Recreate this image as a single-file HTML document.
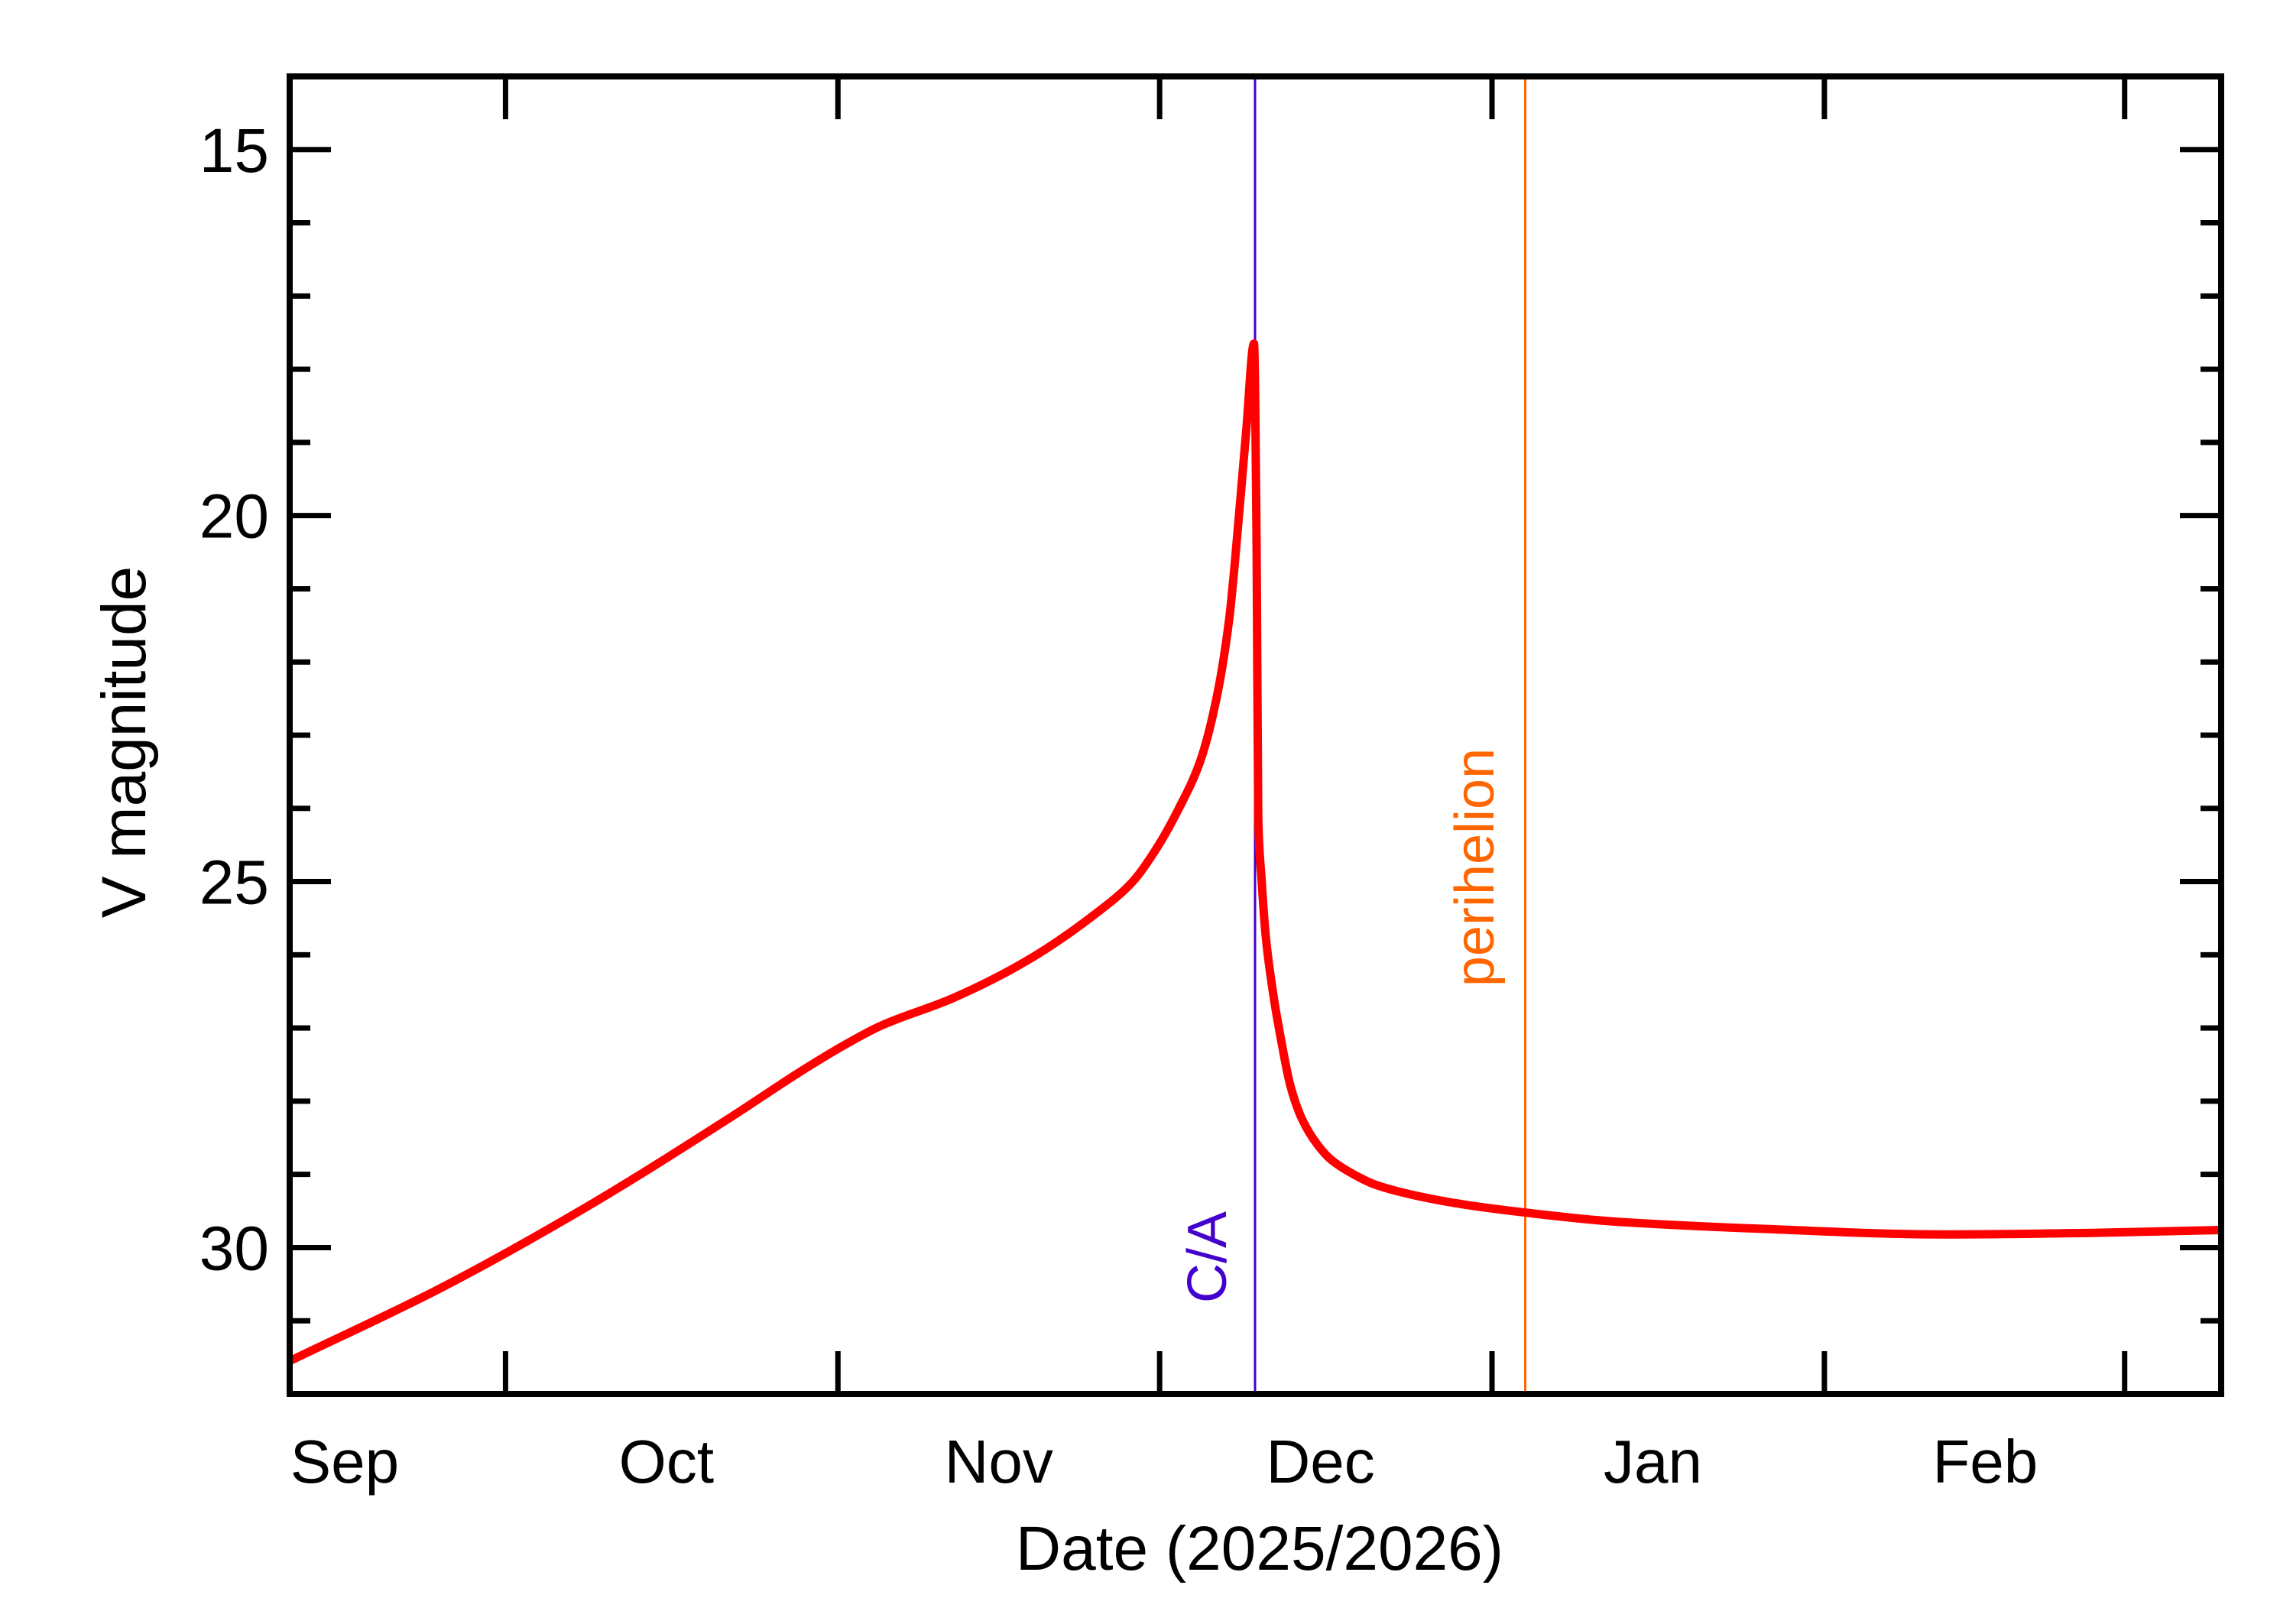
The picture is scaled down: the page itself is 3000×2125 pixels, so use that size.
<!DOCTYPE html>
<html><head><meta charset="utf-8">
<style>
html,body{margin:0;padding:0;background:#fff;}
svg{display:block;}
text{font-family:"Liberation Sans Narrow","Liberation Sans",sans-serif;}
</style></head>
<body>
<svg id="chart" width="3000" height="2125" viewBox="0 0 3000 2125" xmlns="http://www.w3.org/2000/svg">
<rect width="3000" height="2125" fill="#fff"/>
<g id="plot"></g>
</svg>
<script>
// Data: days since 2025-09-01, V magnitude
const days = [9.87, 24, 37.5, 51, 58, 62, 65, 71.6, 78.4, 85.2, 88.5, 90.7, 92.8, 94.8, 96.3, 97.5, 98.4, 99.1, 99.8, 100.05, 100.2, 100.5, 100.9, 101.6, 102.3, 103.2, 104.3, 105.7, 107.0, 109.1, 111.1, 115.2, 119.3, 125, 133, 146.5, 164, 178, 190];
const mags = [31.55, 30.55, 29.45, 28.22, 27.55, 27.2, 26.97, 26.6, 26.1, 25.42, 25.0, 24.55, 24.0, 23.35, 22.5, 21.4, 20.0, 18.8, 17.65, 20.5, 24.15, 24.95, 25.75, 26.54, 27.14, 27.79, 28.25, 28.59, 28.8, 29.0, 29.14, 29.30, 29.41, 29.52, 29.64, 29.74, 29.82, 29.8, 29.76];
const monthTickDays = [30, 61, 91, 122, 153, 181];
const monthLabels = ["Sep", "Oct", "Nov", "Dec", "Jan", "Feb"];
const monthLabelDays = [15, 45, 76, 106, 137, 168];
const yMajorTicks = [15, 20, 25, 30];
const yMinorTicks = [14,15,16,17,18,19,20,21,22,23,24,25,26,27,28,29,30,31,32];
const closeApproachDay = 99.9;
const perihelionDay = 125.1;

const L = 379, R = 2906, T = 100, B = 1824;
const xMin = 9.87, xMax = 190, yMin = 14, yMax = 32;
const X = d => L + (d - xMin) / (xMax - xMin) * (R - L);
const Y = m => T + (m - yMin) / (yMax - yMin) * (B - T);
const NS = "http://www.w3.org/2000/svg";
const g = document.getElementById("plot");
function mk(tag, attrs, parent) {
  const e = document.createElementNS(NS, tag);
  for (const k in attrs) e.setAttribute(k, attrs[k]);
  (parent || g).appendChild(e);
  return e;
}

// vertical lines
const ca = mk("line", {x1: X(closeApproachDay), x2: X(closeApproachDay), y1: T, y2: B, stroke: "#4400cc", "stroke-width": 3});


const ph = mk("line", {x1: X(perihelionDay), x2: X(perihelionDay), y1: T, y2: B, stroke: "#ff6600", "stroke-width": 3});



// curve: monotone cubic (Fritsch-Carlson) interpolation through data points
const n = days.length;
const dx = [], sl = [];
for (let i = 0; i < n - 1; i++) { dx.push(days[i + 1] - days[i]); sl.push((mags[i + 1] - mags[i]) / dx[i]); }
const m = new Array(n);
m[0] = sl[0]; m[n - 1] = sl[n - 2];
for (let i = 1; i < n - 1; i++) {
  if (sl[i - 1] * sl[i] <= 0) m[i] = 0;
  else { const w1 = 2 * dx[i] + dx[i - 1], w2 = dx[i] + 2 * dx[i - 1]; m[i] = (w1 + w2) / (w1 / sl[i - 1] + w2 / sl[i]); }
}
let dpath = "";
for (let i = 0; i < n - 1; i++) {
  const h = dx[i];
  const x0 = X(days[i]), x1 = X(days[i + 1]);
  const y0 = Y(mags[i]), y1 = Y(mags[i + 1]);
  const c1y = Y(mags[i] + m[i] * h / 3), c2y = Y(mags[i + 1] - m[i + 1] * h / 3);
  if (i === 0) dpath += "M" + x0.toFixed(2) + "," + y0.toFixed(2);
  dpath += "C" + (x0 + (x1 - x0) / 3).toFixed(2) + "," + c1y.toFixed(2) + " " + (x1 - (x1 - x0) / 3).toFixed(2) + "," + c2y.toFixed(2) + " " + x1.toFixed(2) + "," + y1.toFixed(2);
}
const curve = mk("path", {d: dpath, fill: "none", stroke: "#ff0000", "stroke-width": 11, "stroke-linejoin": "round"});



// frame
const frame = mk("rect", {x: L, y: T, width: R - L, height: B - T, fill: "none", stroke: "#000", "stroke-width": 8});



// y ticks
yMinorTicks.forEach(v => {
  const major = yMajorTicks.includes(v);
  const len = major ? 54 : 27;
  const t1 = mk("line", {x1: L, x2: L + len, y1: Y(v), y2: Y(v), stroke: "#000", "stroke-width": 7});
  
  
  const t2 = mk("line", {x1: R, x2: R - len, y1: Y(v), y2: Y(v), stroke: "#000", "stroke-width": 7});
  
  
});
yMajorTicks.forEach(v => {
  const t = mk("text", {x: 352, y: Y(v) + 29, "text-anchor": "end", "font-size": 82});
  t.textContent = v;
  
  
});

// x ticks
monthTickDays.forEach(d => {
  const a = mk("line", {x1: X(d), x2: X(d), y1: B, y2: B - 56, stroke: "#000", "stroke-width": 7});
  
  
  const b = mk("line", {x1: X(d), x2: X(d), y1: T, y2: T + 56, stroke: "#000", "stroke-width": 7});
  
  
});
monthLabels.forEach((lab, i) => {
  const t = mk("text", {x: X(monthLabelDays[i]), y: 1940, "text-anchor": "middle", "font-size": 80});
  t.textContent = lab;
  
  
});

// annotations
const caT = mk("text", {x: 0, y: 0, "text-anchor": "middle", "font-size": 72, fill: "#4400cc", transform: "translate(1604,1645) rotate(-90)"});
caT.textContent = "C/A";


const phT = mk("text", {x: 0, y: 0, "text-anchor": "middle", "font-size": 72, fill: "#ff6600", transform: "translate(1954,1135) rotate(-90)"});
phT.textContent = "perihelion";



// axis titles
const xt = mk("text", {x: 1648, y: 2054, "text-anchor": "middle", "font-size": 82});
xt.textContent = "Date (2025/2026)";


const yt = mk("text", {x: 0, y: 0, "text-anchor": "middle", "font-size": 82, transform: "translate(190,971) rotate(-90)"});
yt.textContent = "V magnitude";


</script>
</body></html>
